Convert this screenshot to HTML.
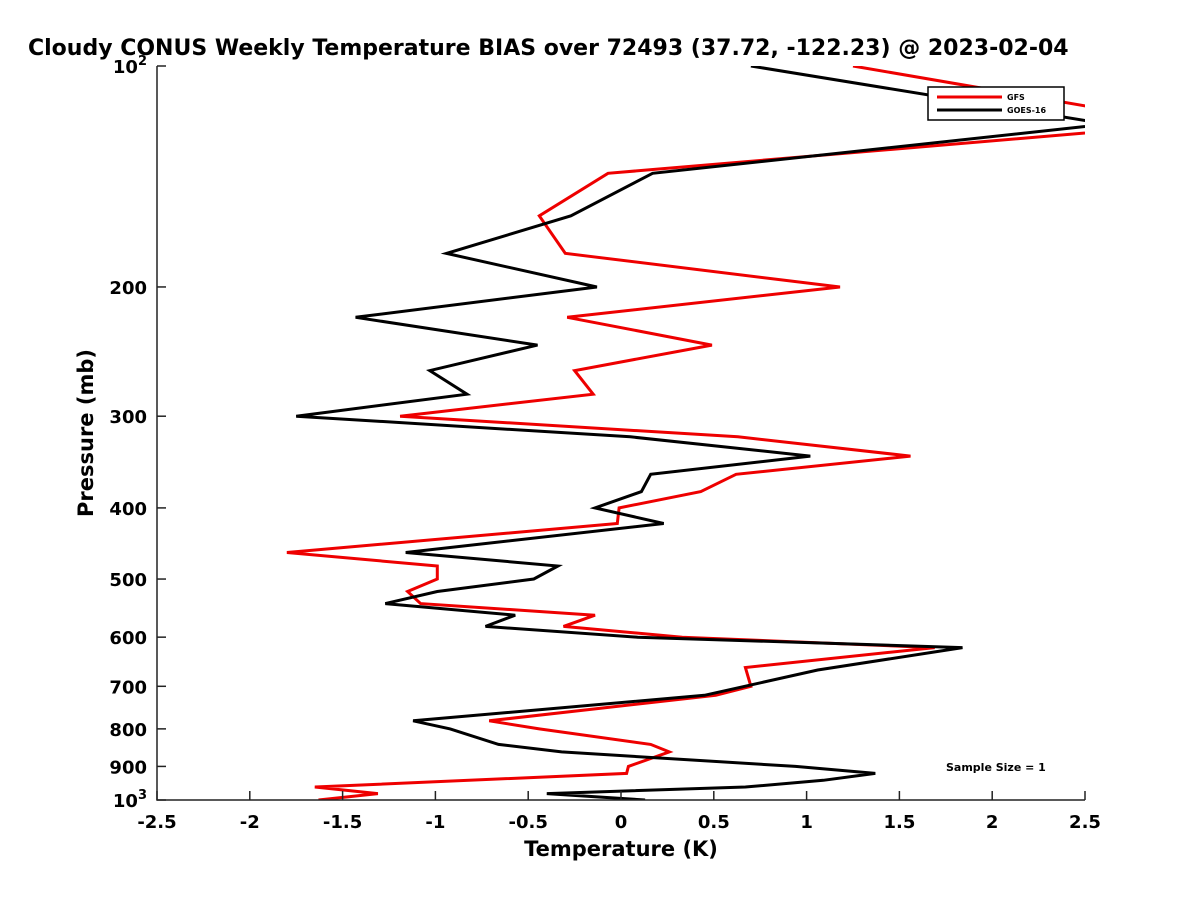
<!DOCTYPE html>
<html><head><meta charset="utf-8"><style>
body{margin:0;background:#fff;}
svg{display:block;font-family:"DejaVu Sans","Liberation Sans",sans-serif;font-weight:bold;}
</style></head><body>
<svg id="chart" width="1200" height="900" xmlns="http://www.w3.org/2000/svg">
<defs><clipPath id="plotclip"><rect x="157" y="66" width="928" height="734"/></clipPath></defs>
<text x="28" y="55" font-size="22" fill="#000">Cloudy CONUS Weekly Temperature BIAS over 72493 (37.72, -122.23) @ 2023-02-04</text>
<g id="series" clip-path="url(#plotclip)"></g>
<g id="axes"></g>
<g>
<rect x="928" y="87" width="136" height="33" fill="#fff" stroke="#000" stroke-width="1.5"/>
<line x1="937" y1="97" x2="1002" y2="97" stroke="#e00" stroke-width="3"/>
<text x="1007" y="100" font-size="8">GFS</text>
<line x1="937" y1="110" x2="1002" y2="110" stroke="#000" stroke-width="3"/>
<text x="1007" y="113" font-size="8">GOES-16</text>
</g>
<text x="946" y="771" font-size="11">Sample Size = 1</text>
<text x="621" y="856" font-size="21" text-anchor="middle">Temperature (K)</text>
<text transform="translate(93,433) rotate(-90)" font-size="21" text-anchor="middle">Pressure (mb)</text>
</svg>
<script>
const xTicks = [-2.5,-2,-1.5,-1,-0.5,0,0.5,1,1.5,2,2.5];
const yTicks = [100,200,300,400,500,600,700,800,900,1000];
const yTickLabels = ["10²","200","300","400","500","600","700","800","900","10³"];
const gfsP = [100,120,140,160,180,200,220,240,260,280,300,320,340,360,380,400,420,460,480,500,520,540,560,580,600,620,660,700,720,780,800,840,860,900,920,960,980,1000];
const gfsT = [1.25,3.07,-0.07,-0.44,-0.30,1.18,-0.29,0.49,-0.25,-0.15,-1.19,0.63,1.56,0.62,0.43,-0.01,-0.02,-1.80,-0.99,-0.99,-1.15,-1.08,-0.14,-0.31,0.33,1.69,0.67,0.70,0.51,-0.71,-0.44,0.16,0.26,0.04,0.03,-1.65,-1.31,-1.63];
const goesP = [100,120,140,160,180,200,220,240,260,280,300,320,340,360,380,400,420,460,480,500,520,540,560,580,600,620,665,720,780,800,840,860,900,920,940,960,980,1000];
const goesT = [0.70,2.62,0.17,-0.27,-0.94,-0.13,-1.43,-0.45,-1.03,-0.83,-1.75,0.05,1.02,0.16,0.11,-0.14,0.23,-1.16,-0.34,-0.47,-0.99,-1.27,-0.57,-0.73,0.09,1.84,1.06,0.45,-1.12,-0.92,-0.66,-0.32,0.94,1.37,1.09,0.67,-0.40,0.13];
const X0=157,X1=1085,Y0=66,Y1=800,XMIN=-2.5,XMAX=2.5;
function xs(v){return X0+(v-XMIN)/(XMAX-XMIN)*(X1-X0);}
function ys(p){return Y0+(Math.log10(p)-2)*(Y1-Y0);}
const NS="http://www.w3.org/2000/svg";
function mk(t,a){const e=document.createElementNS(NS,t);for(const k in a)e.setAttribute(k,a[k]);return e;}
const series=document.getElementById('series'), axes=document.getElementById('axes');
function draw(P,T,color,name){
  const pts=P.map((p,i)=>xs(T[i]).toFixed(1)+','+ys(p).toFixed(1)).join(' ');
  const pl=mk('polyline',{points:pts,fill:'none',stroke:color,'stroke-width':3,'stroke-linejoin':'miter'});
  
  
  series.appendChild(pl);
}
draw(gfsP,gfsT,'#e00','gfs-line');
draw(goesP,goesT,'#000','goes16-line');
const ax=mk('path',{d:`M${X0},${Y0}V${Y1}H${X1}`,fill:'none',stroke:'#222','stroke-width':1.5});


axes.appendChild(ax);
xTicks.forEach(v=>{
  const x=xs(v);
  const t=mk('line',{x1:x,y1:Y1,x2:x,y2:Y1-9,stroke:'#222','stroke-width':1.5});
  
  
  axes.appendChild(t);
  const l=mk('text',{x:x,y:828,'font-size':18,'text-anchor':'middle'});
  l.textContent=String(v);
  
  
  axes.appendChild(l);
});
yTicks.forEach((p,i)=>{
  const y=ys(p);
  const t=mk('line',{x1:X0,y1:y,x2:X0+9,y2:y,stroke:'#222','stroke-width':1.5});
  
  
  axes.appendChild(t);
  const l=mk('text',{x:X0-10,y:y+7,'font-size':18,'text-anchor':'end'});
  const s=yTickLabels[i];
  if(s.length===3&&(s[2]==='²'||s[2]==='³')){
    l.textContent=s.slice(0,2);
    const sup=mk('tspan',{dy:-8,'font-size':13});
    sup.textContent=s[2]==='²'?'2':'3';
    l.appendChild(sup);
  } else l.textContent=s;
  
  
  axes.appendChild(l);
});
</script>
</body></html>
